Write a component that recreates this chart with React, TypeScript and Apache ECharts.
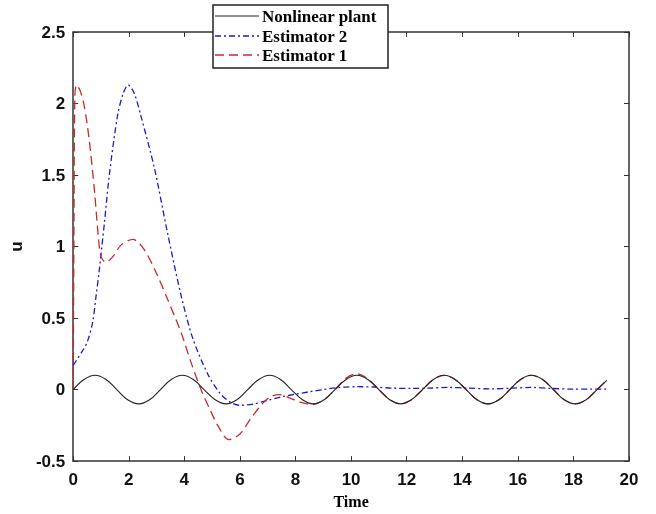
import React, { useEffect, useRef } from "react";
import * as echarts from "echarts";

const xTicks = [0, 2, 4, 6, 8, 10, 12, 14, 16, 18, 20];
const yTicks = [-0.5, 0, 0.5, 1, 1.5, 2, 2.5];

const plantTime = [0, 0.39, 0.79, 1.18, 1.57, 1.96, 2.36, 2.75, 3.14, 3.53, 3.93, 4.32, 4.71, 5.11, 5.5, 5.89, 6.28, 6.68, 7.07, 7.46, 7.85, 8.25, 8.64, 9.03, 9.42, 9.82, 10.21, 10.6, 11.0, 11.39, 11.78, 12.17, 12.57, 12.96, 13.35, 13.74, 14.14, 14.53, 14.92, 15.32, 15.71, 16.1, 16.49, 16.89, 17.28, 17.67, 18.06, 18.46, 18.85, 19.2];
const plantU = [0, 0.071, 0.1, 0.071, 0, -0.071, -0.1, -0.071, 0, 0.071, 0.1, 0.071, 0, -0.071, -0.1, -0.071, 0, 0.071, 0.1, 0.071, 0, -0.071, -0.1, -0.071, 0, 0.071, 0.1, 0.071, 0, -0.071, -0.1, -0.071, 0, 0.071, 0.1, 0.071, 0, -0.071, -0.1, -0.071, 0, 0.071, 0.1, 0.071, 0, -0.071, -0.1, -0.071, 0, 0.065];

const est2Time = [0, 0.3, 0.5, 0.7, 0.82, 0.93, 1.12, 1.3, 1.6, 1.8, 1.98, 2.2, 2.44, 2.92, 3.4, 3.88, 4.3, 4.84, 5.3, 5.67, 6.0, 6.5, 7.0, 7.5, 8.07, 8.5, 9.0, 9.6, 10.2, 10.8, 11.5, 12.2, 12.8, 13.5, 14.2, 15.0, 15.8, 16.5, 17.2, 18.0, 18.6, 19.2];
const est2U = [0.17, 0.26, 0.33, 0.47, 0.65, 0.82, 1.16, 1.5, 1.92, 2.07, 2.13, 2.07, 1.91, 1.55, 1.09, 0.66, 0.36, 0.11, -0.03, -0.09, -0.11, -0.1, -0.075, -0.05, -0.03, -0.015, 0.0, 0.015, 0.02, 0.018, 0.01, 0.008, 0.01, 0.015, 0.01, 0.005, 0.01, 0.015, 0.008, 0.003, 0.003, 0.003];

const est1Time = [0, 0.03, 0.06, 0.12, 0.25, 0.4, 0.58, 0.77, 0.9, 1.0, 1.18, 1.43, 1.72, 2.15, 2.55, 2.98, 3.4, 3.88, 4.24, 4.6, 4.9, 5.2, 5.6, 6.0, 6.4, 6.8, 7.1, 7.4, 7.8, 8.2, 8.6, 9.03, 9.42, 9.82, 10.21, 10.6, 11.0, 11.39, 11.78, 12.17, 12.57, 12.96, 13.35, 13.74, 14.14, 14.53, 14.92, 15.32, 15.71, 16.1, 16.49, 16.89, 17.28, 17.67, 18.06, 18.46, 18.85, 19.2];
const est1U = [0, 1.2, 2.05, 2.13, 2.09, 1.98, 1.74, 1.38, 1.08, 0.93, 0.89, 0.93, 1.01, 1.05, 0.98, 0.82, 0.63, 0.4, 0.19, 0.0, -0.13, -0.25, -0.35, -0.31, -0.2, -0.1, -0.05, -0.035, -0.06, -0.09, -0.105, -0.07, 0, 0.08, 0.11, 0.075, 0, -0.07, -0.1, -0.071, 0, 0.071, 0.1, 0.071, 0, -0.071, -0.1, -0.071, 0, 0.071, 0.1, 0.071, 0, -0.071, -0.1, -0.071, 0, 0.065];

const legendNames = ["Nonlinear plant", "Estimator 2", "Estimator 1"];

const zip = (a: number[], b: number[]) => a.map((t, i) => [t, b[i]]);

export default function App() {
  const ref = useRef<HTMLDivElement>(null);
  useEffect(() => {
    if (!ref.current) return;
    const chart = echarts.init(ref.current, null, { renderer: "svg" });
    const axisColor = "#333";
    const labelFont = { fontFamily: "Liberation Sans, Arial", fontWeight: "bold" as const, fontSize: 17, color: "#111" };
    const serifBold = { fontFamily: "Liberation Serif, Times New Roman", fontWeight: "bold" as const, fontSize: 16, color: "#000" };
    const lx = 215, lw = 44, tx = 262;
    const rows = [16, 36, 55];
    const legendStyles = [
      { stroke: "#222", lineWidth: 1, lineDash: null as any },
      { stroke: "#1a1ad6", lineWidth: 1.3, lineDash: [6, 3, 2, 3] },
      { stroke: "#cc2a2a", lineWidth: 1.3, lineDash: [9, 5] },
    ];
    const common = { onZero: false };
    chart.setOption({
      animation: false,
      grid: { left: 72, right: 27, top: 32, bottom: 45 },
      xAxis: [
        {
          type: "value", min: 0, max: 20, interval: 2, position: "bottom",
          name: "Time", nameLocation: "middle", nameGap: 28,
          nameTextStyle: { ...serifBold, fontSize: 16 },
          axisLine: { ...common, lineStyle: { color: axisColor, width: 1.5 } },
          axisTick: { inside: true, length: 5, lineStyle: { color: axisColor } },
          axisLabel: { ...labelFont, margin: 10, formatter: (v: number) => (xTicks.includes(v) ? String(v) : "") },
          splitLine: { show: false },
        },
        {
          type: "value", min: 0, max: 20, interval: 2, position: "top",
          axisLine: { ...common, lineStyle: { color: axisColor, width: 1.5 } },
          axisTick: { inside: true, length: 5, lineStyle: { color: axisColor } },
          axisLabel: { show: false },
          splitLine: { show: false },
        },
      ],
      yAxis: [
        {
          type: "value", min: -0.5, max: 2.5, interval: 0.5, position: "left",
          name: "u", nameLocation: "middle", nameGap: 42, nameRotate: 90,
          nameTextStyle: { ...labelFont, fontSize: 17 },
          axisLine: { show: true, ...common, lineStyle: { color: axisColor, width: 1.5 } },
          axisTick: { show: true, inside: true, length: 5, lineStyle: { color: axisColor } },
          axisLabel: { ...labelFont, margin: 8, formatter: (v: number) => (yTicks.includes(v) ? String(v) : "") },
          splitLine: { show: false },
        },
        {
          type: "value", min: -0.5, max: 2.5, interval: 0.5, position: "right",
          axisLine: { show: true, ...common, lineStyle: { color: axisColor, width: 1.5 } },
          axisTick: { show: true, inside: true, length: 5, lineStyle: { color: axisColor } },
          axisLabel: { show: false },
          splitLine: { show: false },
        },
      ],
      series: [
        {
          name: legendNames[0], type: "line", data: zip(plantTime, plantU), smooth: 0.4,
          showSymbol: false, lineStyle: { color: "#222", width: 1.1 }, z: 3,
        },
        {
          name: legendNames[1], type: "line", data: zip(est2Time, est2U), smooth: 0.3,
          showSymbol: false, lineStyle: { color: "#1a1ad6", width: 1.3, type: [6, 3, 2, 3] }, z: 2,
        },
        {
          name: legendNames[2], type: "line", data: zip(est1Time, est1U), smooth: 0.3,
          showSymbol: false, lineStyle: { color: "#cc2a2a", width: 1.3, type: [9, 5] }, z: 2,
        },
      ],
      graphic: [
        {
          type: "rect", shape: { x: 213, y: 5, width: 175, height: 63 },
          style: { fill: "#fff", stroke: "#222", lineWidth: 1.5 }, z: 10,
        },
        ...legendNames.flatMap((n, i) => [
          {
            type: "line", shape: { x1: lx, y1: rows[i], x2: lx + lw, y2: rows[i] },
            style: { ...legendStyles[i] }, z: 11,
          },
          {
            type: "text", x: tx, y: rows[i],
            style: { text: n, font: "bold 17px 'Liberation Serif', serif", fill: "#000", verticalAlign: "middle" },
            z: 11,
          },
        ]),
      ],
    });
    return () => chart.dispose();
  }, []);
  return <div ref={ref} style={{ position: "fixed", left: 0, top: 0, width: 656, height: 514 }} />;
}
